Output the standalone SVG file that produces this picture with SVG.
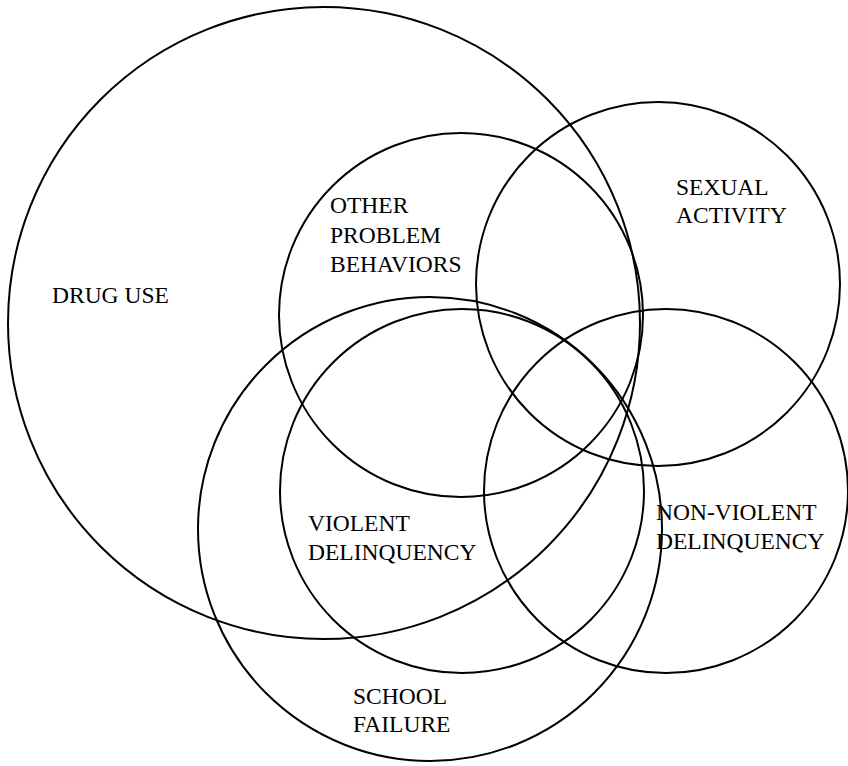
<svg xmlns="http://www.w3.org/2000/svg" width="848" height="766" viewBox="0 0 848 766">
  <style>
    .ring { fill: none; stroke: #000; stroke-width: 2; }
    .lbl { font-family: "Liberation Serif", "Times New Roman", serif; font-size: 23.5px; fill: #000; }
  </style>
  <rect width="848" height="766" fill="#fff"/>

  <!-- Problem behaviour domains, drawn as overlapping sets -->
  <g id="drug-use">
    <circle class="ring" cx="324" cy="323" r="316"/>
    <text class="lbl" x="52" y="303">DRUG USE</text>
  </g>

  <g id="other-problem-behaviors">
    <circle class="ring" cx="461" cy="315" r="182"/>
    <text class="lbl" x="330" y="213">OTHER</text>
    <text class="lbl" x="330" y="243">PROBLEM</text>
    <text class="lbl" x="330" y="272">BEHAVIORS</text>
  </g>

  <g id="sexual-activity">
    <circle class="ring" cx="658" cy="284" r="182"/>
    <text class="lbl" x="676" y="195">SEXUAL</text>
    <text class="lbl" x="676" y="223">ACTIVITY</text>
  </g>

  <g id="non-violent-delinquency">
    <circle class="ring" cx="666" cy="491" r="182"/>
    <text class="lbl" x="656" y="520">NON-VIOLENT</text>
    <text class="lbl" x="656" y="549">DELINQUENCY</text>
  </g>

  <g id="violent-delinquency">
    <circle class="ring" cx="462" cy="491" r="182"/>
    <text class="lbl" x="308" y="531">VIOLENT</text>
    <text class="lbl" x="308" y="560">DELINQUENCY</text>
  </g>

  <g id="school-failure">
    <circle class="ring" cx="430" cy="529" r="232"/>
    <text class="lbl" x="353" y="704">SCHOOL</text>
    <text class="lbl" x="353" y="732">FAILURE</text>
  </g>

  <g id="connectors"></g>
</svg>
